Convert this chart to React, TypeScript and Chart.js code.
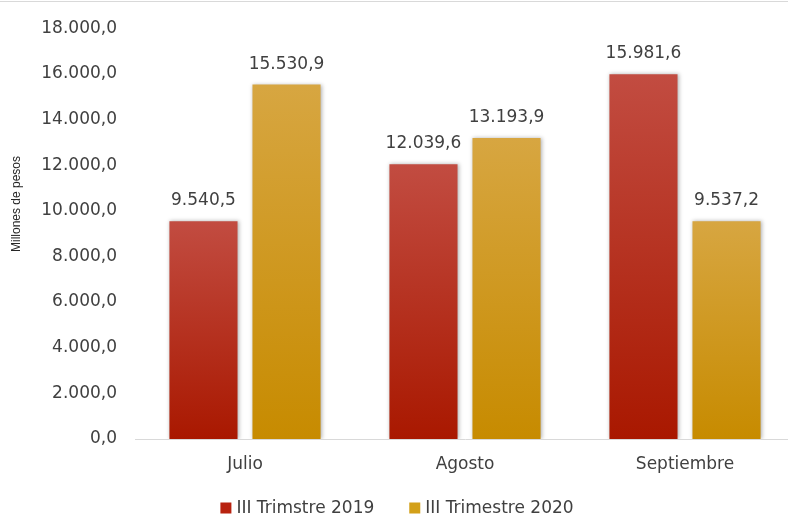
import React, { useEffect, useRef } from "react";
import { Chart, registerables } from "chart.js";

Chart.register(...registerables);

const categories = ["Julio", "Agosto", "Septiembre"];
const seriesLabels = ["III Trimstre 2019", "III Trimestre 2020"];
const values2019 = [9540.5, 12039.6, 15981.6];
const values2020 = [15530.9, 13193.9, 9537.2];
const yMin = 0;
const yMax = 18000;
const yStep = 2000;
const yTitle = "Millones de pesos";

const TEXT = "#404040";
const FONT = "'DejaVu Sans', sans-serif";

const fmt = (v: number) => {
  const [i, d] = v.toFixed(1).split(".");
  const grouped = i.replace(/\B(?=(\d{3})+(?!\d))/g, ".");
  return grouped + "," + d;
};

const makeGrad = (top: string, bottom: string) => (ctx: any) => {
  const chart = ctx.chart;
  if (!chart.chartArea || ctx.type !== "data") return bottom;
  const y = chart.scales.y;
  const yTop = y.getPixelForValue(ctx.raw);
  const yBase = y.getPixelForValue(0);
  const g = chart.ctx.createLinearGradient(0, yTop, 0, yBase);
  g.addColorStop(0, top);
  g.addColorStop(1, bottom);
  return g;
};

const legendColors = ["#b8220f", "#d3a019"];

const decorPlugin = {
  id: "decor",
  beforeDatasetsDraw(chart: any) {
    const c = chart.ctx;
    c.save();
    c.shadowColor = "rgba(0,0,0,0.3)";
    c.shadowBlur = 4;
    c.shadowOffsetX = 1;
    c.shadowOffsetY = 0;
  },
  afterDatasetsDraw(chart: any) {
    const c = chart.ctx;
    c.restore();
    c.save();
    c.fillStyle = TEXT;
    c.font = `17px ${FONT}`;
    c.textAlign = "center";
    c.textBaseline = "alphabetic";
    chart.data.datasets.forEach((ds: any, di: number) => {
      const meta = chart.getDatasetMeta(di);
      meta.data.forEach((el: any, i: number) => {
        c.fillText(fmt(ds.data[i]), el.x, el.y - 16);
      });
    });
    c.restore();
  },
  afterDraw(chart: any) {
    const c = chart.ctx;
    c.save();
    c.strokeStyle = "#d9d9d9";
    c.lineWidth = 1;
    c.beginPath();
    c.moveTo(0, 1.5);
    c.lineTo(chart.width, 1.5);
    c.stroke();
    c.fillStyle = "#262626";
    c.font = `12px 'Liberation Sans', sans-serif`;
    c.textAlign = "center";
    c.textBaseline = "middle";
    c.translate(17, 204);
    c.rotate(-Math.PI / 2);
    c.fillText(yTitle, 0, 0);
    c.restore();
    c.save();
    c.font = `17px ${FONT}`;
    c.textBaseline = "middle";
    c.textAlign = "left";
    const box = 11;
    const gapText = 5;
    const gapItems = 35;
    const labels = chart.data.datasets.map((d: any) => d.label);
    const widths = labels.map((l: string) => box + gapText + c.measureText(l).width);
    const total = widths.reduce((a: number, b: number) => a + b, 0) + gapItems * (labels.length - 1);
    let x = 397 - total / 2;
    const cy = 508;
    labels.forEach((l: string, i: number) => {
      c.fillStyle = legendColors[i];
      c.fillRect(x, cy - box / 2, box, box);
      c.fillStyle = TEXT;
      c.fillText(l, x + box + gapText, cy + 1);
      x += widths[i] + gapItems;
    });
    c.restore();
  },
};

export default function App() {
  const ref = useRef<HTMLCanvasElement>(null);
  useEffect(() => {
    if (!ref.current) return;
    const chart = new Chart(ref.current, {
      type: "bar",
      data: {
        labels: categories,
        datasets: [
          {
            label: seriesLabels[0],
            data: values2019,
            backgroundColor: makeGrad("#c24c41", "#a91800"),
            borderWidth: 0,
          },
          {
            label: seriesLabels[1],
            data: values2020,
            backgroundColor: makeGrad("#d7a641", "#c78b00"),
            borderWidth: 0,
          },
        ],
      },
      options: {
        animation: false,
        responsive: false,
        devicePixelRatio: 1,
        layout: { padding: { left: 0, right: 5, top: 25, bottom: 0 } },
        datasets: {
          bar: { categoryPercentage: 0.755, barPercentage: 0.82 },
        },
        plugins: {
          legend: { display: false },
          tooltip: { enabled: false },
        },
        scales: {
          x: {
            grid: { display: false, drawTicks: false },
            border: { display: true, color: "#d9d9d9", width: 1 },
            ticks: { color: TEXT, font: { family: FONT, size: 17 }, padding: 15 },
            afterFit: (s: any) => {
              s.height = 80;
            },
          },
          y: {
            min: yMin,
            max: yMax,
            grid: { display: false, drawTicks: false },
            border: { display: false },
            ticks: {
              stepSize: yStep,
              color: TEXT,
              font: { family: FONT, size: 17 },
              padding: 18,
              callback: (v: any) => fmt(Number(v)),
            },
            afterFit: (s: any) => {
              s.width = 135;
            },
          },
        },
      },
      plugins: [decorPlugin],
    });
    return () => chart.destroy();
  }, []);
  return (
    <div
      style={{
        position: "fixed",
        left: 0,
        top: 0,
        width: 788,
        height: 519,
        overflow: "hidden",
        background: "#fff",
      }}
    >
      <canvas ref={ref} width={800} height={519} style={{ width: 800, height: 519, display: "block" }} />
    </div>
  );
}
